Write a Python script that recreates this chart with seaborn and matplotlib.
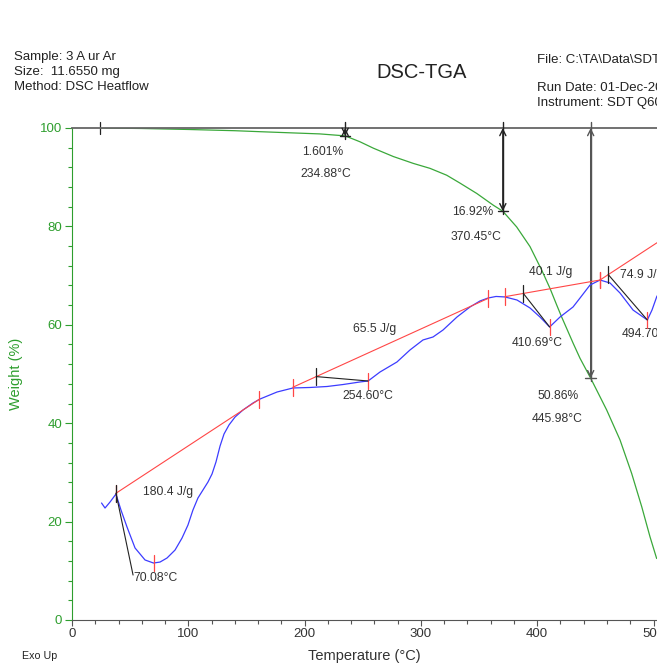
import numpy as np
import pandas as pd
import matplotlib
matplotlib.use("Agg")
import matplotlib.pyplot as plt
from matplotlib.ticker import MultipleLocator
import seaborn as sns

# ---- TGA weight curve (Temperature °C, Weight %) ----
tga_temp = [25, 60, 100, 140, 161.6, 190, 213, 234.88, 247.6, 259.1, 276.3, 293.5,
            307.8, 322.2, 333.6, 348, 362.3, 370.45, 382.3, 393.8, 403.9, 411,
            416.8, 421, 431, 436.8, 445.98, 459.7, 471.2, 481.2, 489.9, 497, 502.7]
tga_weight = [100.0, 99.9, 99.7, 99.45, 99.25, 99.0, 98.8, 98.4, 97.2, 95.9, 94.2, 92.8,
              91.8, 90.4, 88.8, 86.7, 84.3, 83.08, 79.9, 75.9, 71.1, 67.4,
              64.0, 61.6, 56.2, 53.2, 49.14, 42.7, 36.6, 29.8, 23.0, 16.9, 12.5]

# ---- DSC heat flow curve (Temperature °C, Heat Flow W/g) ----
dsc_temp = [25.4, 28.4, 32.7, 37.8, 42.1, 47.3, 54.2, 62.8, 70.08, 75.7, 81.7, 88.6,
            94.6, 99.7, 104.0, 108.3, 112.6, 116.9, 120.4, 123.8, 127.3, 130.7,
            135.0, 140.2, 147.0, 155.6, 161.7, 176.3, 190.0, 204.6, 219.3, 233.0,
            247.6, 254.6, 264.8, 279.4, 290.6, 301.8, 310.4, 319.0, 331.0, 342.2,
            350.8, 357.7, 364.6, 372.3, 382.6, 393.8, 402.4, 410.69, 419.6, 430.8,
            436.8, 445.4, 454.0, 462.6, 471.2, 482.4, 494.7, 498.7, 503.0]
dsc_heat = [-2.811, -2.862, -2.801, -2.720, -2.882, -3.055, -3.268, -3.390, -3.421, -3.411,
            -3.370, -3.289, -3.167, -3.035, -2.882, -2.760, -2.679, -2.598, -2.516, -2.394,
            -2.232, -2.110, -2.018, -1.937, -1.866, -1.795, -1.754, -1.683, -1.642, -1.637,
            -1.627, -1.607, -1.581, -1.571, -1.480, -1.378, -1.256, -1.154, -1.124, -1.053,
            -0.921, -0.819, -0.758, -0.728, -0.712, -0.717, -0.748, -0.829, -0.921, -1.022,
            -0.921, -0.819, -0.728, -0.596, -0.545, -0.575, -0.677, -0.850, -0.951, -0.850,
            -0.707]

# ---- DSC peak integrations ----
base_start_t = [37.8, 189.8, 372.3, 454.0]
base_start_hf = [-2.712, -1.635, -0.714, -0.545]
base_end_t = [161.1, 357.9, 454.0, 503.0]
base_end_hf = [-1.757, -0.731, -0.545, -0.166]
onset_t = [37.8, 210.0, 388.1, 461.1]
peak_t = [70.08, 254.60, 410.69, 494.70]
enthalpy = [180.4, 65.5, 40.1, 74.9]
enthalpy_pos = [(82.5, -2.699, "center"), (260.5, -1.043, "center"),
                (411.9, -0.463, "center"), (471.2, -0.494, "left")]
peak_label_pos = [(52.5, -3.573, "left"), (254.6, -1.724, "center"),
                  (399.6, -1.182, "center"), (472.6, -1.093, "left")]

# ---- TGA weight-loss steps ----
step_start_t = 24.0
step_t = [234.88, 370.45, 445.98]
step_loss = [1.601, 16.92, 50.86]
step_colors = ["#222222", "#222222", "#555555"]
loss_label_pos = [(215.8, 95.1, "center"), (362.0, 83.0, "right"), (417.9, 45.5, "center")]
temp_label_pos = [(218.1, 90.65), (347.0, 77.9), (417.0, 40.85)]

GREEN = "#2e9e2e"
CURVE_GREEN = "#3aa83a"
BLUE = "#3c3cff"
RED = "#ff4646"
TEXT = "#333333"

sns.set_style("ticks")
plt.rcParams["font.family"] = ["Liberation Sans", "DejaVu Sans"]

W, H = 657, 664
fig = plt.figure(figsize=(W / 100, H / 100), dpi=100)
ax = fig.add_axes([72 / W, 44 / H, (W - 72) / W, (620 - 128) / H])
ax2 = ax.twinx()

# TGA curve
tga_df = pd.DataFrame({"Temperature": tga_temp, "Weight": tga_weight})
sns.lineplot(data=tga_df, x="Temperature", y="Weight", ax=ax, color=CURVE_GREEN,
             lw=0.9, sort=False, estimator=None)

# DSC curve
dsc_df = pd.DataFrame({"Temperature": dsc_temp, "Heat Flow": dsc_heat})
sns.lineplot(data=dsc_df, x="Temperature", y="Heat Flow", ax=ax2, color=BLUE,
             lw=0.9, sort=False, estimator=None)

ax.set_xlim(0, 503)
ax.set_ylim(0, 100)
ax2.set_ylim(-4, 1)

# Axes styling
for s in ["right"]:
    ax.spines[s].set_visible(False)
    ax2.spines[s].set_visible(False)
ax.spines["left"].set_color(GREEN)
ax.spines["top"].set_color("#666666")
ax.spines["top"].set_linewidth(1.3)
ax.spines["bottom"].set_color("#555555")
for s in ax2.spines.values():
    s.set_visible(False)
ax2.set_yticks([])
ax2.set_ylabel("")

ax.xaxis.set_major_locator(MultipleLocator(100))
ax.xaxis.set_minor_locator(MultipleLocator(20))
ax.yaxis.set_major_locator(MultipleLocator(20))
ax.yaxis.set_minor_locator(MultipleLocator(4))
ax.tick_params(axis="x", which="major", length=4.5, width=0.8, color="#555555",
               labelsize=9.5, labelcolor=TEXT, pad=1.5)
ax.tick_params(axis="x", which="minor", length=3, width=0.8, color="#555555")
ax.tick_params(axis="y", which="major", length=5, width=0.8, color=GREEN,
               labelsize=9.5, labelcolor=GREEN, pad=2)
ax.tick_params(axis="y", which="minor", length=3, width=0.8, color=GREEN)
ax.set_xlabel("Temperature (°C)", fontsize=10.5, color=TEXT, labelpad=6)
ax.set_ylabel("Weight (%)", fontsize=10.5, color=GREEN, labelpad=12)

# DSC baselines, markers and labels
dt = 0.085
for i in range(4):
    ax2.plot([base_start_t[i], base_end_t[i]], [base_start_hf[i], base_end_hf[i]],
             color=RED, lw=0.8, zorder=3)
    for t, h in [(base_start_t[i], base_start_hf[i]), (base_end_t[i], base_end_hf[i])]:
        if t < 503:
            ax2.plot([t, t], [h - dt, h + dt], color=RED, lw=0.9, zorder=4)
    # peak marker on curve
    hp = float(np.interp(peak_t[i], dsc_temp, dsc_heat))
    ax2.plot([peak_t[i], peak_t[i]], [hp - dt, hp + dt], color=RED, lw=0.9, zorder=4)
    # onset marker on baseline
    frac = (onset_t[i] - base_start_t[i]) / (base_end_t[i] - base_start_t[i])
    ho = base_start_hf[i] + frac * (base_end_hf[i] - base_start_hf[i])
    ax2.plot([onset_t[i], onset_t[i]], [ho - dt, ho + dt], color="#222222", lw=0.9, zorder=5)
    # leader from onset to peak / label
    if i == 0:
        lx, ly, _ = peak_label_pos[0]
        ax2.plot([onset_t[i], lx], [ho, ly + 0.03], color="#222222", lw=0.8, zorder=5)
    else:
        ax2.plot([onset_t[i], peak_t[i]], [ho, hp], color="#222222", lw=0.8, zorder=5)
    ex, ey, eha = enthalpy_pos[i]
    ax2.text(ex, ey, f"{enthalpy[i]} J/g", fontsize=8.7, color=TEXT, ha=eha, va="center")
    px, py, pha = peak_label_pos[i]
    ax2.text(px, py, f"{peak_t[i]:.2f}°C", fontsize=8.7, color=TEXT, ha=pha, va="center")

# TGA step analysis
ax.plot([step_start_t, step_start_t], [98.8, 101.2], color="#222222", lw=0.9, clip_on=False)
for i in range(3):
    t = step_t[i]
    w_end = 100 - step_loss[i]
    c = step_colors[i]
    ax.plot([t, t], [101.2, w_end - 0.6], color=c, lw=1.0, clip_on=False, zorder=6)
    ax.annotate("", xy=(t, w_end), xytext=(t, 100),
                arrowprops=dict(arrowstyle="<->", color=c, lw=1.0, shrinkA=0, shrinkB=0,
                                mutation_scale=11),
                annotation_clip=False, zorder=6)
    ax.plot([t - 4.5, t + 4.5], [w_end, w_end], color=c, lw=1.0, zorder=6)
    lx, ly, lha = loss_label_pos[i]
    ax.text(lx, ly, f"{step_loss[i]:.4g}%", fontsize=8.7, color=TEXT, ha=lha, va="center")
    tx, ty = temp_label_pos[i]
    ax.text(tx, ty, f"{t:.2f}°C", fontsize=8.7, color=TEXT, ha="center", va="center")

# Header text
def ftext(x, y, s, **kw):
    fig.text(x / W, 1 - y / H, s, va="center", color="#222222", **kw)

ftext(14, 57, "Sample: 3 A ur Ar", fontsize=9.5)
ftext(14, 72, "Size:  11.6550 mg", fontsize=9.5)
ftext(14, 87, "Method: DSC Heatflow", fontsize=9.5)
ftext(422, 72, "DSC-TGA", fontsize=14.5, ha="center")
ftext(537, 60, "File: C:\\TA\\Data\\SDT\\3A ur Ar.001", fontsize=9.5)
ftext(537, 88, "Run Date: 01-Dec-2015 10:21", fontsize=9.5)
ftext(537, 103, "Instrument: SDT Q600 V20.9 Build 20", fontsize=9.5)
ftext(22, 656, "Exo Up", fontsize=7.7)

fig.savefig("out.png", dpi=100)
